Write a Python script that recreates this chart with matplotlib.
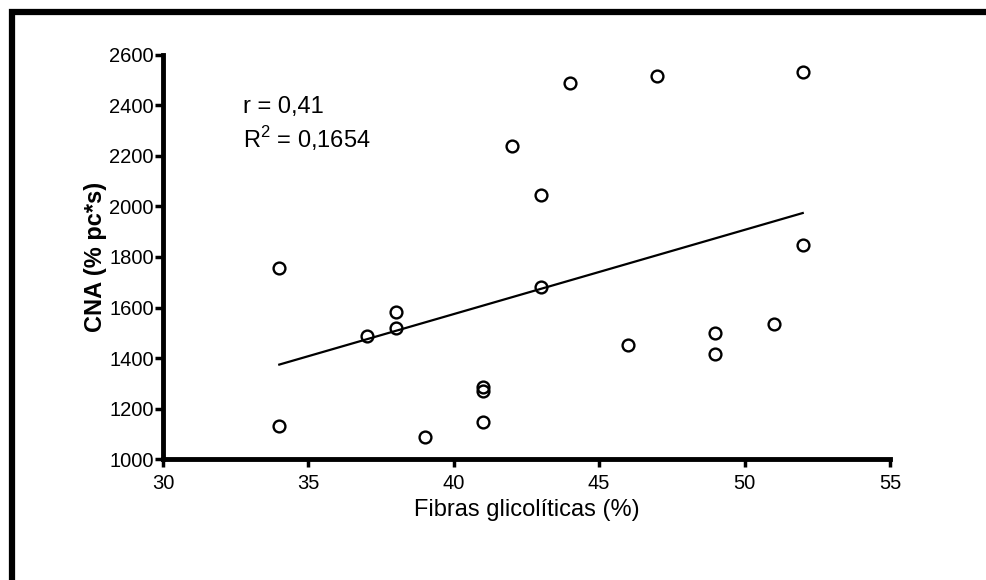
import numpy as np
import matplotlib
matplotlib.use("Agg")
import matplotlib.pyplot as plt
from matplotlib.patches import Rectangle

# fibras glicoliticas (%) vs CNA (% pc*s)
fibras = [34, 34, 37, 38, 38, 39, 41, 41, 41, 42, 43, 43, 44, 46, 47, 49, 49, 51, 52, 52]
cna = [1755, 1130, 1488, 1583, 1518, 1087, 1286, 1268, 1148, 2238, 2044, 1681,
       2489, 1451, 2518, 1500, 1415, 1536, 2533, 1846]
x_ticks = [30, 35, 40, 45, 50, 55]
y_ticks = [1000, 1200, 1400, 1600, 1800, 2000, 2200, 2400, 2600]
stats_text = ["r = 0,41", r"R$^\mathregular{2}$ = 0,1654"]

plt.rcParams["font.family"] = ["Liberation Sans", "DejaVu Sans"]
plt.rcParams["mathtext.fontset"] = "custom"
plt.rcParams["mathtext.rm"] = "Liberation Sans"

fig = plt.figure(figsize=(9.87, 5.80), dpi=100)
ax = fig.add_axes([0.1651, 0.2086, 0.7366, 0.6966])

# linear fit over the data range
slope, intercept = np.polyfit(fibras, cna, 1)
xs = np.array([min(fibras), max(fibras)])
ax.plot(xs, slope * xs + intercept, color="black", lw=1.6)

ax.plot(fibras, cna, "o", mfc="none", mec="black", ms=8.5, mew=1.7)

ax.set_xlim(30, 55)
ax.set_ylim(1000, 2600)
ax.set_xticks(x_ticks)
ax.set_yticks(y_ticks)
for s in ["top", "right"]:
    ax.spines[s].set_visible(False)
for s in ["left", "bottom"]:
    ax.spines[s].set_linewidth(3.5)
ax.tick_params(axis="both", length=6, width=2.5, labelsize=14.5)
ax.tick_params(axis="y", pad=0.5)
ax.tick_params(axis="x", pad=5)

ax.set_xlabel("Fibras glicolíticas (%)", fontsize=17, labelpad=4)
ax.set_ylabel("CNA (% pc*s)", fontsize=17, fontweight="bold", labelpad=2)

ax.text(0.110, 0.856, stats_text[0], transform=ax.transAxes, fontsize=17, va="baseline")
ax.text(0.110, 0.770, stats_text[1], transform=ax.transAxes, fontsize=17, va="baseline")

# outer frame, only top and left visible in the picture
fig.add_artist(Rectangle((12 / 987, -0.1), 1.2, 1.1 - 12 / 580, transform=fig.transFigure,
                         fill=False, lw=4.5, ec="black"))

fig.savefig("out.png", dpi=100, facecolor="white")
